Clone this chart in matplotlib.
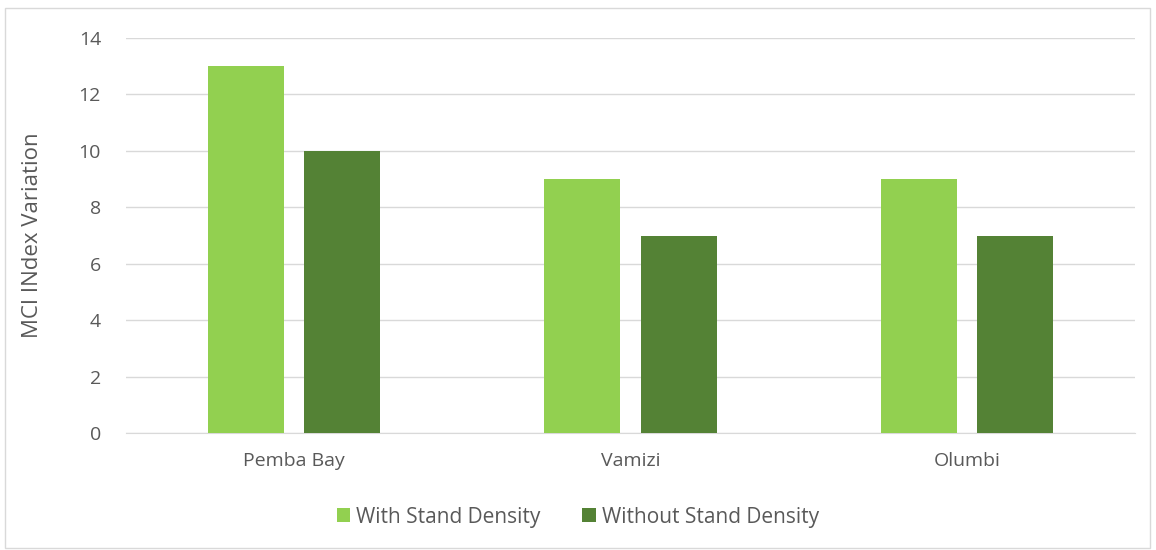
import numpy as np
import matplotlib.pyplot as plt
from matplotlib.patches import Rectangle

sites = ["Pemba Bay", "Vamizi", "Olumbi"]
with_density = [13, 9, 9]
without_density = [10, 7, 7]
labels = ["With Stand Density", "Without Stand Density"]
colors = ["#92D050", "#548235"]

plt.rcParams['font.family'] = ['Open Sans', 'DejaVu Sans']

fig = plt.figure(figsize=(11.56, 5.5), dpi=100)
fig.patches.append(Rectangle((5/1156, 2/550), 1145/1156, 540/550, transform=fig.transFigure,
                             fill=False, edgecolor='#d9d9d9', linewidth=1))
ax = fig.add_axes([126/1156, 1-433/550, (1135-126)/1156, (433-38)/550])

x = np.arange(len(sites))
w = 0.226
off = 0.143
ax.bar(x - off, with_density, w, color=colors[0], label=labels[0], zorder=3)
ax.bar(x + off, without_density, w, color=colors[1], label=labels[1], zorder=3)

ax.set_xlim(-0.5, 2.5)
ax.set_ylim(0, 14)
ax.set_yticks(range(0, 15, 2))
ax.set_xticks(x)
ax.set_xticklabels(sites)
ax.yaxis.grid(True, color='#d9d9d9', linewidth=1, zorder=0)
for s in ['top', 'right', 'left']:
    ax.spines[s].set_visible(False)
ax.spines['bottom'].set_color('#d9d9d9')
ax.tick_params(axis='both', length=0, labelsize=14, colors='#595959', pad=14)
ax.tick_params(axis='y', pad=18)
ax.set_ylabel("MCI INdex Variation", fontsize=16, color='#595959', labelpad=26)

fig.legend(loc='center', bbox_to_anchor=(0.5, 1-517/550), ncol=2, frameon=False,
           fontsize=15, labelcolor='#595959', handlelength=0.65, handleheight=0.65,
           handletextpad=0.3, columnspacing=2.0)

fig.savefig("out.png", dpi=100)
